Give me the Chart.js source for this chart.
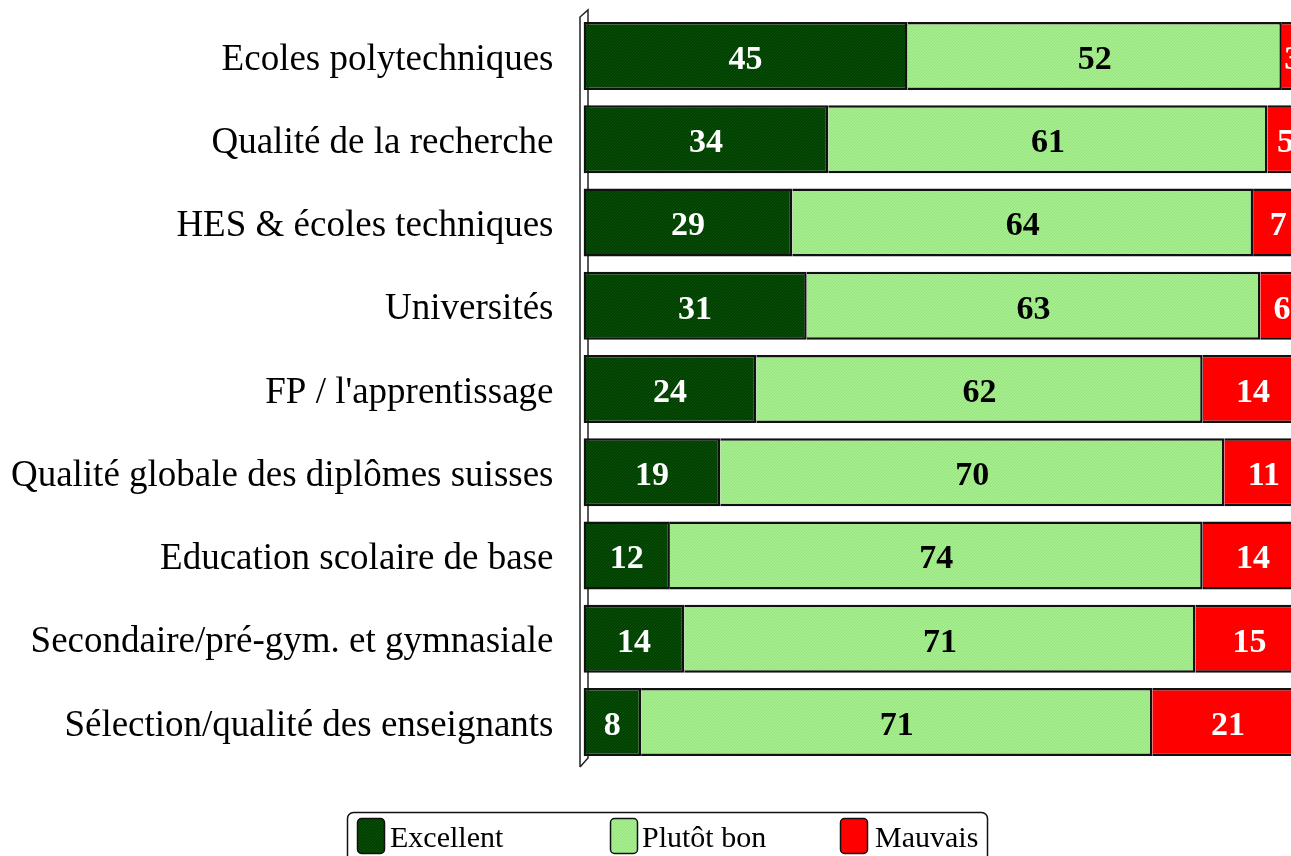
<!DOCTYPE html>
<html>
<head>
<meta charset="utf-8">
<script src="https://cdn.jsdelivr.net/npm/chart.js@4"></script>
<style>
  html, body { margin: 0; padding: 0; background: #fff; overflow: hidden; }
  #wrap { width: 1320px; height: 856px; }
</style>
</head>
<body>
<div id="wrap"><canvas id="grafico" width="1320" height="856"></canvas></div>
<script>
const categories = ['Ecoles polytechniques', 'Qualité de la recherche', 'HES & écoles techniques', 'Universités',
  'FP / l\'apprentissage', 'Qualité globale des diplômes suisses', 'Education scolaire de base',
  'Secondaire/pré-gym. et gymnasiale', 'Sélection/qualité des enseignants'];
const seriesNames = ['Excellent', 'Plutôt bon', 'Mauvais'];
const excellent = [45, 34, 29, 31, 24, 19, 12, 14, 8];
const plutotBon = [52, 61, 64, 63, 62, 70, 74, 71, 71];
const mauvais = [3, 5, 7, 6, 14, 11, 14, 15, 21];

const ctx = document.getElementById('grafico').getContext('2d');

// petit motif tramé comme dans l'original
function trame(base, dot) {
  const c = document.createElement('canvas');
  c.width = 3; c.height = 3;
  const g = c.getContext('2d');
  g.fillStyle = base; g.fillRect(0, 0, 3, 3);
  g.fillStyle = dot; g.fillRect(0, 0, 1, 1); g.fillRect(2, 1, 1, 1); g.fillRect(1, 2, 1, 1);
  return ctx.createPattern(c, 'repeat');
}
const vertFonce = trame('#003f00', '#0b520b');
const vertClair = trame('#a6ef8f', '#96e07e');
const rouge = '#ff0000';
const labelColors = ['#fff', '#000', '#fff'];

const wall = {
  id: 'wall',
  beforeDatasetsDraw(chart) {
    const a = chart.chartArea, c = chart.ctx;
    c.save();
    c.strokeStyle = '#222';
    c.lineWidth = 1.5;
    c.beginPath();
    c.moveTo(a.left - 3.5, a.bottom + 3.4);
    c.lineTo(a.left - 3.5, a.top + 2.6);
    c.lineTo(a.left + 4.5, a.top - 4.4);
    c.lineTo(a.left + 4.5, a.bottom - 5.6);
    c.lineTo(a.left - 3.5, a.bottom + 3.4);
    c.stroke();
    c.restore();
  }
};

const valeurs = {
  id: 'valeurs',
  afterDatasetsDraw(chart) {
    const c = chart.ctx;
    c.save();
    c.font = 'bold 34px "Liberation Serif"';
    c.textAlign = 'center';
    c.textBaseline = 'middle';
    chart.data.datasets.forEach((ds, i) => {
      chart.getDatasetMeta(i).data.forEach((bar, j) => {
        const p = bar.getCenterPoint();
        c.fillStyle = labelColors[i];
        c.fillText(ds.data[j], p.x, p.y + 4);
      });
    });
    c.restore();
  }
};

const legende = {
  id: 'legende',
  afterDraw(chart) {
    const c = chart.ctx;
    const sx = [357, 610, 840], tx = [390, 642, 875];
    c.save();
    c.strokeStyle = '#111';
    c.lineWidth = 1.5;
    c.beginPath();
    c.roundRect(347.5, 812.5, 640, 70, 6);
    c.fillStyle = '#fff';
    c.fill();
    c.stroke();
    c.font = '30px "Liberation Serif"';
    c.textBaseline = 'alphabetic';
    c.textAlign = 'left';
    chart.data.datasets.forEach((ds, i) => {
      c.beginPath();
      c.roundRect(sx[i] + 0.5, 818.5, 27, 35, 4);
      c.fillStyle = ds.backgroundColor;
      c.fill();
      c.lineWidth = 1.5;
      c.strokeStyle = '#111';
      c.stroke();
      c.fillStyle = '#000';
      c.fillText(ds.label, tx[i], 847);
    });
    c.restore();
  }
};

new Chart(ctx, {
  type: 'bar',
  data: {
    labels: categories,
    datasets: [
      { label: seriesNames[0], data: excellent, backgroundColor: vertFonce, borderSkipped: false },
      { label: seriesNames[1], data: plutotBon, backgroundColor: vertClair, borderSkipped: 'start' },
      { label: seriesNames[2], data: mauvais, backgroundColor: rouge, borderSkipped: 'start' }
    ]
  },
  options: {
    indexAxis: 'y',
    responsive: false,
    animation: false,
    events: [],
    datasets: {
      bar: { borderColor: '#111', borderWidth: 2.5, barPercentage: 0.817, categoryPercentage: 1 }
    },
    layout: { padding: { left: 0, right: 16.5, top: 14.4, bottom: 92.4 } },
    plugins: {
      legend: { display: false },
      tooltip: { enabled: false },
      title: { display: false }
    },
    scales: {
      x: { stacked: true, min: 0, max: 100, display: false },
      y: {
        stacked: true,
        grid: { display: false, drawTicks: false },
        border: { display: false },
        ticks: {
          color: '#000',
          padding: 30,
          labelOffset: 4,
          font: { family: '"Liberation Serif"', size: 37 }
        },
        afterFit(scale) {
          scale.width = 583.5;
          scale.paddingTop = 0;
          scale.paddingBottom = 0;
        }
      }
    }
  },
  plugins: [wall, valeurs, legende]
});
</script>
</body>
</html>
